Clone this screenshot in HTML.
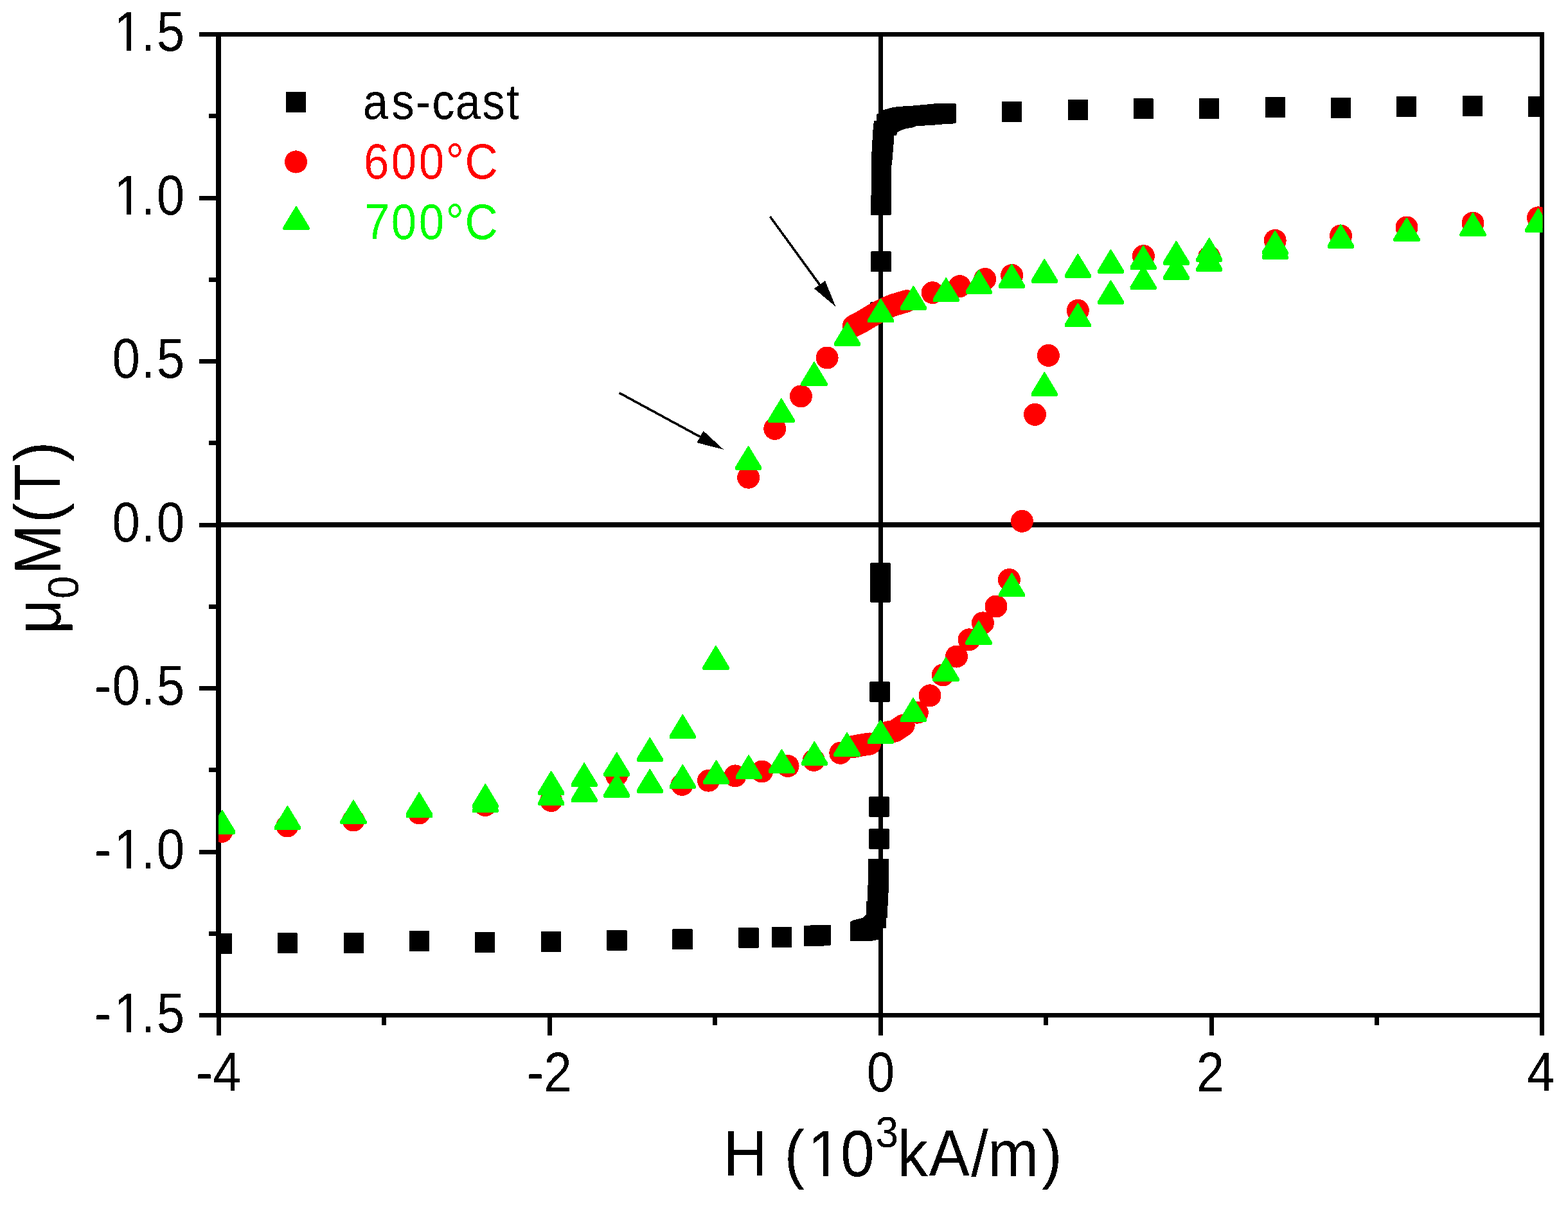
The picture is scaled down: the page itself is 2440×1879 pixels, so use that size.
<!DOCTYPE html>
<html><head><meta charset="utf-8"><title>Hysteresis loops</title>
<style>html,body{margin:0;padding:0;background:#fff;}body{width:2440px;height:1879px;overflow:hidden;}svg{display:block;} rect,circle,path,line{shape-rendering:crispEdges;}text{font-family:'Liberation Sans', Arial, sans-serif;}</style>
</head><body>
<svg width="2440" height="1879" viewBox="0 0 2440 1879">
<rect width="2440" height="1879" fill="#fff"/>
<defs><clipPath id="pc"><rect x="340.0" y="53.5" width="2060.5" height="1527.0"/></clipPath></defs>
<g fill="#000">
<rect x="336" y="50" width="8" height="1534"/>
<rect x="2396" y="50" width="7" height="1534"/>
<rect x="336" y="50" width="2067" height="7"/>
<rect x="336" y="1577" width="2067" height="7"/>
<rect x="1367" y="53" width="7" height="1528"/>
<rect x="340" y="813" width="2060" height="8"/>
<rect x="310" y="50.0" width="27" height="7"/>
<rect x="310" y="304.5" width="27" height="7"/>
<rect x="310" y="559.0" width="27" height="7"/>
<rect x="310" y="813.5" width="27" height="7"/>
<rect x="310" y="1068.0" width="27" height="7"/>
<rect x="310" y="1322.5" width="27" height="7"/>
<rect x="310" y="1577.0" width="27" height="7"/>
<rect x="325" y="177.2" width="12" height="7"/>
<rect x="325" y="431.8" width="12" height="7"/>
<rect x="325" y="686.2" width="12" height="7"/>
<rect x="325" y="940.8" width="12" height="7"/>
<rect x="325" y="1195.2" width="12" height="7"/>
<rect x="325" y="1449.8" width="12" height="7"/>
<rect x="336.5" y="1583" width="7" height="29"/>
<rect x="851.8" y="1583" width="7" height="29"/>
<rect x="1367.0" y="1583" width="7" height="29"/>
<rect x="1881.5" y="1583" width="7" height="29"/>
<rect x="2396.0" y="1583" width="7" height="29"/>
<rect x="594.1" y="1583" width="7" height="13"/>
<rect x="1109.4" y="1583" width="7" height="13"/>
<rect x="1624.2" y="1583" width="7" height="13"/>
<rect x="2138.8" y="1583" width="7" height="13"/>
</g>
<defs><mask id="foot" maskUnits="userSpaceOnUse" x="0" y="0" width="2440" height="1879"><rect width="2440" height="1879" fill="#fff"/><rect x="181.90" y="71.96" width="15.19" height="9.04" fill="#000"/><rect x="204.00" y="71.96" width="14.58" height="9.04" fill="#000"/><rect x="181.90" y="326.46" width="15.19" height="9.04" fill="#000"/><rect x="204.00" y="326.46" width="14.58" height="9.04" fill="#000"/><rect x="181.90" y="1344.46" width="15.19" height="9.04" fill="#000"/><rect x="204.00" y="1344.46" width="14.58" height="9.04" fill="#000"/><rect x="181.90" y="1598.96" width="15.19" height="9.04" fill="#000"/><rect x="204.00" y="1598.96" width="14.58" height="9.04" fill="#000"/><rect x="1262.44" y="1822.76" width="18.16" height="10.14" fill="#000"/><rect x="1289.00" y="1822.76" width="17.42" height="10.14" fill="#000"/></mask><filter id="crisp" filterUnits="userSpaceOnUse" x="0" y="0" width="2440" height="1879"><feComponentTransfer><feFuncA type="discrete" tableValues="0 1"/></feComponentTransfer></filter></defs><g mask="url(#foot)"><g filter="url(#crisp)">
<text transform="matrix(0.93 0 0 1.0415 0 0)" font-size="84" fill="#000" x="190.81 236.18 262.21" y="76.33">1.5</text>
<text transform="matrix(0.93 0 0 1.0415 0 0)" font-size="84" fill="#000" x="190.81 236.18 262.13" y="320.69">1.0</text>
<text transform="matrix(0.93 0 0 1.0415 0 0)" font-size="84" fill="#000" x="187.77 236.18 262.21" y="565.05">0.5</text>
<text transform="matrix(0.93 0 0 1.0415 0 0)" font-size="84" fill="#000" x="187.77 236.18 262.13" y="809.41">0.0</text>
<text transform="matrix(0.93 0 0 1.0415 0 0)" font-size="84" fill="#000" x="158.00 187.77 236.18 262.21" y="1053.77">-0.5</text>
<text transform="matrix(0.93 0 0 1.0415 0 0)" font-size="84" fill="#000" x="158.00 190.81 236.18 262.13" y="1298.13">-1.0</text>
<text transform="matrix(0.93 0 0 1.0415 0 0)" font-size="84" fill="#000" x="158.00 190.81 236.18 262.21" y="1542.49">-1.5</text>
<text transform="matrix(0.93 0 0 1.0415 0 0)" font-size="84" fill="#000" x="327.95 356.42" y="1631.30">-4</text>
<text transform="matrix(0.93 0 0 1.0415 0 0)" font-size="84" fill="#000" x="881.66 909.97" y="1631.30">-2</text>
<text transform="matrix(0.93 0 0 1.0415 0 0)" font-size="84" fill="#000" x="1450.30" y="1631.30">0</text>
<text transform="matrix(0.93 0 0 1.0415 0 0)" font-size="84" fill="#000" x="2001.80" y="1631.30">2</text>
<text transform="matrix(0.93 0 0 1.0415 0 0)" font-size="84" fill="#000" x="2555.19" y="1631.30">4</text>
<text transform="matrix(0.97 0 0 1.044 0 0)" font-size="98" fill="#000"><tspan x="1160.21 1230.98 1258.15 1295.56 1348.42" y="1754.21">H (10</tspan><tspan x="1404.73" y="1711.13" font-size="66">3</tspan><tspan x="1439.50 1490.10 1557.93 1584.62 1671.07" y="1754.21">kA/m)</tspan></text>
<text transform="translate(94.0 980.0) rotate(-90) scale(0.97 1.035)" font-size="98" fill="#000"><tspan x="-7.53" y="0.00">μ</tspan><tspan x="49.53" y="27.02" font-size="66">0</tspan><tspan x="87.58 170.83 206.23 269.01" y="0.00">M(T)</tspan></text>
</g>
</g>
<g clip-path="url(#pc)">
<g fill="#000">
<rect x="1558.9" y="157.9" width="31.2" height="32.0" rx="1"/>
<rect x="1662.1" y="154.8" width="31.2" height="32.0" rx="1"/>
<rect x="1763.8" y="153.4" width="31.2" height="32.0" rx="1"/>
<rect x="1865.9" y="152.9" width="31.2" height="32.0" rx="1"/>
<rect x="1969.1" y="150.9" width="31.2" height="32.0" rx="1"/>
<rect x="2070.8" y="152.0" width="31.2" height="32.0" rx="1"/>
<rect x="2173.1" y="149.8" width="31.2" height="32.0" rx="1"/>
<rect x="2275.9" y="148.9" width="31.2" height="32.0" rx="1"/>
<rect x="2377.9" y="149.9" width="31.2" height="32.0" rx="1"/>
<rect x="1355.3" y="303.4" width="31.2" height="32.0" rx="1"/>
<rect x="1355.4" y="391.4" width="31.2" height="32.0" rx="1"/>
<rect x="1354.4" y="470.0" width="31.2" height="32.0" rx="1"/>
<rect x="1354.4" y="875.9" width="31.2" height="32.0" rx="1"/>
<rect x="1354.4" y="905.9" width="31.2" height="32.0" rx="1"/>
<rect x="1353.4" y="1061.1" width="31.2" height="32.0" rx="1"/>
<rect x="1352.4" y="1240.0" width="31.2" height="32.0" rx="1"/>
<rect x="1352.4" y="1290.0" width="31.2" height="32.0" rx="1"/>
<rect x="329.7" y="1453.2" width="31.2" height="32.0" rx="1"/>
<rect x="431.8" y="1452.4" width="31.2" height="32.0" rx="1"/>
<rect x="534.6" y="1451.9" width="31.2" height="32.0" rx="1"/>
<rect x="637.0" y="1448.9" width="31.2" height="32.0" rx="1"/>
<rect x="739.0" y="1450.8" width="31.2" height="32.0" rx="1"/>
<rect x="842.1" y="1450.0" width="31.2" height="32.0" rx="1"/>
<rect x="944.4" y="1447.8" width="31.2" height="32.0" rx="1"/>
<rect x="1046.4" y="1446.3" width="31.2" height="32.0" rx="1"/>
<rect x="1149.3" y="1443.5" width="31.2" height="32.0" rx="1"/>
<rect x="1200.6" y="1443.0" width="31.2" height="32.0" rx="1"/>
<rect x="1251.2" y="1441.0" width="31.2" height="32.0" rx="1"/>
<rect x="1261.4" y="1439.5" width="31.2" height="32.0" rx="1"/>
<path d="M1364.1 178.0L1367.0 176.9L1374.0 170.9L1378.7 170.3L1385.3 167.9L1391.2 167.1L1396.6 165.9L1415.6 165.0L1435.8 163.2L1456.0 161.2L1486.5 161.2L1487.5 162.2L1487.5 191.3L1486.5 192.3L1466.1 193.5L1445.9 195.3L1426.3 195.9L1421.0 198.3L1410.8 200.0L1401.3 203.0L1396.6 206.0L1394.8 210.7L1391.0 210.7L1391.0 219.7L1390.0 231.0L1388.9 243.4L1388.0 256.5L1386.8 256.5L1386.8 305.0L1356.2 305.0L1356.2 241.0L1357.1 225.6L1358.2 206.0L1359.1 195.3L1360.0 188.0L1364.1 188.0Z"/>
<path d="M1351.2 1337.3L1382.9 1337.3L1382.9 1389.6L1382.0 1389.6L1382.0 1410.0L1380.6 1410.0L1380.6 1428.8L1378.5 1428.8L1378.5 1444.8L1374.0 1444.8L1374.0 1454.6L1372.0 1462.0L1366.9 1462.7L1353.5 1465.4L1323.2 1465.4L1323.2 1435.0L1328.5 1432.4L1342.8 1428.8L1348.2 1423.4L1348.2 1403.0L1350.0 1403.0L1350.0 1378.0L1351.2 1378.0Z"/>
</g>
<g fill="#f00">
<circle cx="2393.6" cy="338.9" r="17.5"/>
<circle cx="2292.0" cy="347.2" r="17.5"/>
<circle cx="2189.0" cy="354.0" r="17.5"/>
<circle cx="2086.4" cy="367.0" r="17.5"/>
<circle cx="1984.2" cy="374.4" r="17.5"/>
<circle cx="1881.7" cy="400.0" r="17.5"/>
<circle cx="1779.5" cy="398.5" r="17.5"/>
<circle cx="1677.3" cy="483.3" r="17.5"/>
<circle cx="1631.4" cy="553.4" r="17.5"/>
<circle cx="1610.5" cy="645.4" r="17.5"/>
<circle cx="1590.4" cy="811.3" r="17.5"/>
<circle cx="1574.6" cy="428.5" r="17.5"/>
<circle cx="1532.7" cy="434.5" r="17.5"/>
<circle cx="1493.4" cy="445.6" r="17.5"/>
<circle cx="1451.1" cy="455.7" r="17.5"/>
<circle cx="1287.1" cy="557.0" r="17.5"/>
<circle cx="1246.4" cy="616.9" r="17.5"/>
<circle cx="1205.8" cy="667.4" r="17.5"/>
<circle cx="1164.7" cy="743.2" r="17.5"/>
<circle cx="1570.5" cy="902.5" r="17.5"/>
<circle cx="1550.0" cy="944.0" r="17.5"/>
<circle cx="1529.4" cy="969.9" r="17.5"/>
<circle cx="1508.0" cy="995.8" r="17.5"/>
<circle cx="1488.5" cy="1022.0" r="17.5"/>
<circle cx="1467.3" cy="1050.9" r="17.5"/>
<circle cx="1447.0" cy="1082.8" r="17.5"/>
<circle cx="1427.3" cy="1109.2" r="17.5"/>
<circle cx="1307.8" cy="1172.3" r="17.5"/>
<circle cx="1266.5" cy="1183.5" r="17.5"/>
<circle cx="1226.1" cy="1192.5" r="17.5"/>
<circle cx="1185.6" cy="1201.0" r="17.5"/>
<circle cx="1144.0" cy="1207.9" r="17.5"/>
<circle cx="1102.5" cy="1215.2" r="17.5"/>
<circle cx="1061.5" cy="1221.5" r="17.5"/>
<circle cx="959.4" cy="1207.0" r="17.5"/>
<circle cx="857.7" cy="1246.5" r="17.5"/>
<circle cx="755.0" cy="1253.5" r="17.5"/>
<circle cx="652.3" cy="1266.0" r="17.5"/>
<circle cx="550.0" cy="1277.0" r="17.5"/>
<circle cx="447.0" cy="1286.0" r="17.5"/>
<circle cx="345.1" cy="1294.4" r="17.5"/>
</g>
<path d="M1328.4 507.5L1340.0 501.5L1350.0 495.5L1360.0 489.5L1370.0 484.0L1380.0 479.0L1390.0 475.0L1400.0 472.0L1411.0 468.7" fill="none" stroke="#f00" stroke-width="35" stroke-linecap="round" stroke-linejoin="round"/>
<path d="M1325.0 1163.0L1340.0 1160.0L1353.5 1158.0" fill="none" stroke="#f00" stroke-width="35" stroke-linecap="round" stroke-linejoin="round"/>
<path d="M1382.0 1140.0L1392.7 1138.0L1406.2 1129.0" fill="none" stroke="#f00" stroke-width="35" stroke-linecap="round" stroke-linejoin="round"/>
<g fill="#0f0">
<path d="M2393.0 324.2L2394.2 324.2L2414.2 357.2L2414.2 360.8L2413.2 361.8L2374.0 361.8L2373.0 360.8L2373.0 357.2Z"/>
<path d="M2291.4 330.8L2292.6 330.8L2312.6 363.8L2312.6 367.4L2311.6 368.4L2272.4 368.4L2271.4 367.4L2271.4 363.8Z"/>
<path d="M2188.4 338.5L2189.6 338.5L2209.6 371.5L2209.6 375.1L2208.6 376.1L2169.4 376.1L2168.4 375.1L2168.4 371.5Z"/>
<path d="M2085.8 348.9L2087.0 348.9L2107.0 381.9L2107.0 385.5L2106.0 386.5L2066.8 386.5L2065.8 385.5L2065.8 381.9Z"/>
<path d="M1983.6 359.0L1984.8 359.0L2004.8 392.0L2004.8 395.6L2003.8 396.6L1964.6 396.6L1963.6 395.6L1963.6 392.0Z"/>
<path d="M1983.6 366.0L1984.8 366.0L2004.8 399.0L2004.8 402.6L2003.8 403.6L1964.6 403.6L1963.6 402.6L1963.6 399.0Z"/>
<path d="M1881.1 370.1L1882.3 370.1L1902.3 403.1L1902.3 406.7L1901.3 407.7L1862.1 407.7L1861.1 406.7L1861.1 403.1Z"/>
<path d="M1881.1 385.0L1882.3 385.0L1902.3 418.0L1902.3 421.6L1901.3 422.6L1862.1 422.6L1861.1 421.6L1861.1 418.0Z"/>
<path d="M1829.8 374.9L1831.0 374.9L1851.0 407.9L1851.0 411.5L1850.0 412.5L1810.8 412.5L1809.8 411.5L1809.8 407.9Z"/>
<path d="M1829.8 398.0L1831.0 398.0L1851.0 431.0L1851.0 434.6L1850.0 435.6L1810.8 435.6L1809.8 434.6L1809.8 431.0Z"/>
<path d="M1778.5 382.1L1779.7 382.1L1799.7 415.1L1799.7 418.7L1798.7 419.7L1759.5 419.7L1758.5 418.7L1758.5 415.1Z"/>
<path d="M1778.5 413.5L1779.7 413.5L1799.7 446.5L1799.7 450.1L1798.7 451.1L1759.5 451.1L1758.5 450.1L1758.5 446.5Z"/>
<path d="M1727.9 388.2L1729.1 388.2L1749.1 421.2L1749.1 424.8L1748.1 425.8L1708.9 425.8L1707.9 424.8L1707.9 421.2Z"/>
<path d="M1727.9 436.2L1729.1 436.2L1749.1 469.2L1749.1 472.8L1748.1 473.8L1708.9 473.8L1707.9 472.8L1707.9 469.2Z"/>
<path d="M1676.7 394.9L1677.9 394.9L1697.9 427.9L1697.9 431.5L1696.9 432.5L1657.7 432.5L1656.7 431.5L1656.7 427.9Z"/>
<path d="M1676.7 471.8L1677.9 471.8L1697.9 504.8L1697.9 508.4L1696.9 509.4L1657.7 509.4L1656.7 508.4L1656.7 504.8Z"/>
<path d="M1624.7 402.9L1625.9 402.9L1645.9 435.9L1645.9 439.5L1644.9 440.5L1605.7 440.5L1604.7 439.5L1604.7 435.9Z"/>
<path d="M1624.7 579.2L1625.9 579.2L1645.9 612.2L1645.9 615.8L1644.9 616.8L1605.7 616.8L1604.7 615.8L1604.7 612.2Z"/>
<path d="M1573.8 411.0L1575.0 411.0L1595.0 444.0L1595.0 447.6L1594.0 448.6L1554.8 448.6L1553.8 447.6L1553.8 444.0Z"/>
<path d="M1573.9 891.8L1575.1 891.8L1595.1 924.8L1595.1 928.4L1594.1 929.4L1554.9 929.4L1553.9 928.4L1553.9 924.8Z"/>
<path d="M1522.6 420.0L1523.8 420.0L1543.8 453.0L1543.8 456.6L1542.8 457.6L1503.6 457.6L1502.6 456.6L1502.6 453.0Z"/>
<path d="M1522.4 966.1L1523.6 966.1L1543.6 999.1L1543.6 1002.7L1542.6 1003.7L1503.4 1003.7L1502.4 1002.7L1502.4 999.1Z"/>
<path d="M1471.6 432.1L1472.8 432.1L1492.8 465.1L1492.8 468.7L1491.8 469.7L1452.6 469.7L1451.6 468.7L1451.6 465.1Z"/>
<path d="M1471.4 1023.0L1472.6 1023.0L1492.6 1056.0L1492.6 1059.6L1491.6 1060.6L1452.4 1060.6L1451.4 1059.6L1451.4 1056.0Z"/>
<path d="M1420.8 445.0L1422.0 445.0L1442.0 478.0L1442.0 481.6L1441.0 482.6L1401.8 482.6L1400.8 481.6L1400.8 478.0Z"/>
<path d="M1420.5 1086.2L1421.7 1086.2L1441.7 1119.2L1441.7 1122.8L1440.7 1123.8L1401.5 1123.8L1400.5 1122.8L1400.5 1119.2Z"/>
<path d="M1370.0 464.8L1371.2 464.8L1391.2 497.8L1391.2 501.4L1390.2 502.4L1351.0 502.4L1350.0 501.4L1350.0 497.8Z"/>
<path d="M1369.6 1120.5L1370.8 1120.5L1390.8 1153.5L1390.8 1157.1L1389.8 1158.1L1350.6 1158.1L1349.6 1157.1L1349.6 1153.5Z"/>
<path d="M1317.8 501.1L1319.0 501.1L1339.0 534.1L1339.0 537.7L1338.0 538.7L1298.8 538.7L1297.8 537.7L1297.8 534.1Z"/>
<path d="M1317.4 1140.1L1318.6 1140.1L1338.6 1173.1L1338.6 1176.7L1337.6 1177.7L1298.4 1177.7L1297.4 1176.7L1297.4 1173.1Z"/>
<path d="M1266.3 563.2L1267.5 563.2L1287.5 596.2L1287.5 599.8L1286.5 600.8L1247.3 600.8L1246.3 599.8L1246.3 596.2Z"/>
<path d="M1266.7 1154.1L1267.9 1154.1L1287.9 1187.1L1287.9 1190.7L1286.9 1191.7L1247.7 1191.7L1246.7 1190.7L1246.7 1187.1Z"/>
<path d="M1215.3 620.0L1216.5 620.0L1236.5 653.0L1236.5 656.6L1235.5 657.6L1196.3 657.6L1195.3 656.6L1195.3 653.0Z"/>
<path d="M1215.8 1166.2L1217.0 1166.2L1237.0 1199.2L1237.0 1202.8L1236.0 1203.8L1196.8 1203.8L1195.8 1202.8L1195.8 1199.2Z"/>
<path d="M1164.0 694.2L1165.2 694.2L1185.2 727.2L1185.2 730.8L1184.2 731.8L1145.0 731.8L1144.0 730.8L1144.0 727.2Z"/>
<path d="M1164.5 1175.2L1165.7 1175.2L1185.7 1208.2L1185.7 1211.8L1184.7 1212.8L1145.5 1212.8L1144.5 1211.8L1144.5 1208.2Z"/>
<path d="M1114.0 1183.3L1115.2 1183.3L1135.2 1216.3L1135.2 1219.9L1134.2 1220.9L1095.0 1220.9L1094.0 1219.9L1094.0 1216.3Z"/>
<path d="M1113.4 1005.0L1114.6 1005.0L1134.6 1038.0L1134.6 1041.6L1133.6 1042.6L1094.4 1042.6L1093.4 1041.6L1093.4 1038.0Z"/>
<path d="M1061.7 1190.2L1062.9 1190.2L1082.9 1223.2L1082.9 1226.8L1081.9 1227.8L1042.7 1227.8L1041.7 1226.8L1041.7 1223.2Z"/>
<path d="M1061.7 1112.2L1062.9 1112.2L1082.9 1145.2L1082.9 1148.8L1081.9 1149.8L1042.7 1149.8L1041.7 1148.8L1041.7 1145.2Z"/>
<path d="M1010.7 1197.0L1011.9 1197.0L1031.9 1230.0L1031.9 1233.6L1030.9 1234.6L991.7 1234.6L990.7 1233.6L990.7 1230.0Z"/>
<path d="M1010.7 1148.1L1011.9 1148.1L1031.9 1181.1L1031.9 1184.7L1030.9 1185.7L991.7 1185.7L990.7 1184.7L990.7 1181.1Z"/>
<path d="M959.1 1171.1L960.3 1171.1L980.3 1204.1L980.3 1207.7L979.3 1208.7L940.1 1208.7L939.1 1207.7L939.1 1204.1Z"/>
<path d="M959.1 1204.0L960.3 1204.0L980.3 1237.0L980.3 1240.6L979.3 1241.6L940.1 1241.6L939.1 1240.6L939.1 1237.0Z"/>
<path d="M908.5 1187.3L909.7 1187.3L929.7 1220.3L929.7 1223.9L928.7 1224.9L889.5 1224.9L888.5 1223.9L888.5 1220.3Z"/>
<path d="M908.5 1211.2L909.7 1211.2L929.7 1244.2L929.7 1247.8L928.7 1248.8L889.5 1248.8L888.5 1247.8L888.5 1244.2Z"/>
<path d="M857.1 1200.2L858.3 1200.2L878.3 1233.2L878.3 1236.8L877.3 1237.8L838.1 1237.8L837.1 1236.8L837.1 1233.2Z"/>
<path d="M857.1 1216.3L858.3 1216.3L878.3 1249.3L878.3 1252.9L877.3 1253.9L838.1 1253.9L837.1 1252.9L837.1 1249.3Z"/>
<path d="M754.7 1220.2L755.9 1220.2L775.9 1253.2L775.9 1256.8L774.9 1257.8L735.7 1257.8L734.7 1256.8L734.7 1253.2Z"/>
<path d="M754.7 1227.2L755.9 1227.2L775.9 1260.2L775.9 1263.8L774.9 1264.8L735.7 1264.8L734.7 1263.8L734.7 1260.2Z"/>
<path d="M651.7 1233.1L652.9 1233.1L672.9 1266.1L672.9 1269.7L671.9 1270.7L632.7 1270.7L631.7 1269.7L631.7 1266.1Z"/>
<path d="M651.7 1235.8L652.9 1235.8L672.9 1268.8L672.9 1272.4L671.9 1273.4L632.7 1273.4L631.7 1272.4L631.7 1268.8Z"/>
<path d="M549.4 1245.3L550.6 1245.3L570.6 1278.3L570.6 1281.9L569.6 1282.9L530.4 1282.9L529.4 1281.9L529.4 1278.3Z"/>
<path d="M446.8 1254.3L448.0 1254.3L468.0 1287.3L468.0 1290.9L467.0 1291.9L427.8 1291.9L426.8 1290.9L426.8 1287.3Z"/>
<path d="M345.2 1260.9L346.4 1260.9L366.4 1293.9L366.4 1297.5L365.4 1298.5L326.2 1298.5L325.2 1297.5L325.2 1293.9Z"/>
</g>
</g>
<line x1="1198.4" y1="337.3" x2="1277.8" y2="446.4" stroke="#000" stroke-width="3.6"/><path d="M1300.5 477.5L1267.0 449.3L1284.0 437.0Z" fill="#000"/>
<line x1="963.6" y1="611.6" x2="1093.0" y2="681.9" stroke="#000" stroke-width="3.6"/><path d="M1126.0 699.8L1084.5 689.2L1094.5 670.8Z" fill="#000"/>
<g>
<rect x="445.0" y="142.8" width="31" height="32" rx="1" fill="#000"/>
<circle cx="460.5" cy="252" r="17.6" fill="#f00"/>
<g fill="#0f0"><path d="M460.4 320.8L461.6 320.8L481.6 353.8L481.6 357.4L480.6 358.4L441.4 358.4L440.4 357.4L440.4 353.8Z"/></g>
<g filter="url(#crisp)">
<text transform="matrix(0.93 0 0 1.033 0 0)" font-size="76" fill="#000" x="607.31 655.24 695.30 722.97 761.88 806.75 847.59" y="178.61">as-cast</text>
<text transform="matrix(0.93 0 0 1.033 0 0)" font-size="76" fill="#f00" x="608.55 654.67 700.69 745.84 777.83" y="268.93">600°C</text>
<text transform="matrix(0.93 0 0 1.033 0 0)" font-size="76" fill="#0f0" x="609.74 654.67 700.69 745.84 777.83" y="360.02">700°C</text>
</g>
</g>
</svg>
</body></html>
